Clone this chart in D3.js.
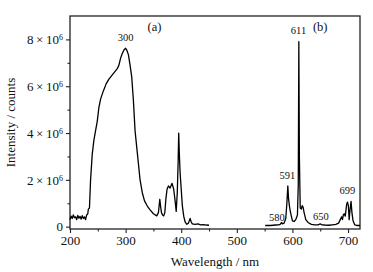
<!DOCTYPE html>
<html>
<head>
<script src="https://d3js.org/d3.v7.min.js"></script>
<style>
  body { margin: 0; background: #fff; }
  text { font-family: "Liberation Serif", "DejaVu Serif", serif; fill: #111; }
</style>
</head>
<body>
<svg id="plot"></svg>
<script>
// excitation spectrum (a): wavelength nm, intensity counts
var excWave = [200,202,204,206,208,210,212,214,216,218,220,222,224,226,228,230,232,233,235,
  237,240,243,246,249,252,255,260,265,270,275,280,285,288,291,294,297,300,302,
  305,308,311,314,317,320,323,326,330,334,339,344,350,356,359,361.5,363,364.5,
  366.5,368.5,370.5,372.5,374.5,377,380,383.5,386.5,389,391,393,394.5,395.5,
  396.5,398,400,402,404.5,407,410,413,416,418,420,425,430,435,440,445,450];
var excInt = [0.3e6,0.45e6,0.35e6,0.5e6,0.38e6,0.42e6,0.3e6,0.48e6,0.36e6,0.44e6,0.32e6,
  0.47e6,0.35e6,0.42e6,0.3e6,0.5e6,0.55e6,0.75e6,0.8e6,
  2.0e6,3.1e6,3.7e6,4.1e6,4.5e6,5.1e6,5.45e6,5.8e6,6.1e6,6.3e6,6.45e6,6.6e6,6.75e6,
  6.9e6,7.2e6,7.4e6,7.55e6,7.62e6,7.55e6,7.35e6,6.9e6,6.4e6,5.4e6,4.1e6,3.4e6,2.7e6,
  2.0e6,1.45e6,1.1e6,0.88e6,0.72e6,0.55e6,0.46e6,0.6e6,1.17e6,0.85e6,0.6e6,0.5e6,
  0.46e6,0.6e6,1.2e6,1.6e6,1.74e6,1.65e6,1.85e6,1.6e6,1.1e6,0.65e6,1.5e6,2.8e6,4.0e6,
  3.2e6,2.3e6,1.6e6,0.9e6,0.45e6,0.2e6,0.1e6,0.15e6,0.35e6,0.2e6,0.12e6,0.1e6,0.12e6,
  0.08e6,0.09e6,0.07e6,0.06e6];

// emission spectrum (b)
var emWave = [551,555,560,565,570,575,578,580.5,582,585,588,590,591.7,593,594.5,596,
  598,600,603,606,609,610.5,611.5,612.5,614,616,617.5,619,621,624,628,634,640,646,
  650,653,658,665,672,678,683,686,688.5,690,691.5,693,695,697.5,699,700.6,702,
  703.5,705.4,707,709,712,716,721.5];
var emInt = [0.05e6,0.05e6,0.05e6,0.06e6,0.07e6,0.08e6,0.1e6,0.18e6,0.12e6,0.15e6,0.35e6,
  1.0e6,1.74e6,1.2e6,0.9e6,0.67e6,0.45e6,0.25e6,0.22e6,0.3e6,0.5e6,1.8e6,7.9e6,3.0e6,
  0.8e6,0.75e6,0.9e6,0.85e6,0.6e6,0.3e6,0.18e6,0.1e6,0.08e6,0.08e6,0.12e6,0.08e6,0.07e6,
  0.06e6,0.08e6,0.1e6,0.15e6,0.3e6,0.42e6,0.3e6,0.5e6,0.55e6,0.45e6,0.95e6,1.05e6,0.9e6,
  0.3e6,0.7e6,1.08e6,0.6e6,0.25e6,0.08e6,0.05e6,0.05e6];

var xTicks = [200,300,400,500,600,700];
var xMinor = [250,350,450,550,650];
var yTicks = [0,2e6,4e6,6e6,8e6];
var yMinor = [1e6,3e6,5e6,7e6];

// peak labels: [wavelength, intensity at label, text]
var peakLabels = [[300,7.95e6,"300"],[611,8.25e6,"611"],[591,2.05e6,"591"],
  [572,0.25e6,"580"],[651,0.3e6,"650"],[699,1.4e6,"699"]];
var panelLabels = [[352,8.35e6,"(a)"],[650,8.35e6,"(b)"]];

var W = 373, H = 272;
var M = {left: 70, right: 13, top: 16, bottom: 43};

var svg = d3.select("#plot").attr("width", W).attr("height", H);

var x = d3.scaleLinear().domain([200, 721.5]).range([M.left, W - M.right]);
var y = d3.scaleLinear().domain([-0.1e6, 9e6]).range([H - M.bottom, M.top]);

// frame
svg.append("rect")
  .attr("x", M.left).attr("y", M.top)
  .attr("width", W - M.left - M.right).attr("height", H - M.top - M.bottom)
  .attr("fill", "none").attr("stroke", "#222").attr("stroke-width", 1.3);

// x axis
var xg = svg.append("g").attr("transform", "translate(0," + (H - M.bottom) + ")");
xg.call(d3.axisBottom(x).tickValues(xTicks).tickSize(4).tickPadding(3));
xg.append("g").call(d3.axisBottom(x).tickValues(xMinor).tickSize(2.5).tickFormat(""));
xg.selectAll(".domain").remove();
xg.selectAll("line").attr("stroke", "#222").attr("stroke-width", 1.1);
xg.selectAll("text").attr("font-size", 13).attr("font-family", "Liberation Serif").attr("fill", "#111");

// y axis
var yg = svg.append("g").attr("transform", "translate(" + M.left + ",0)");
var ygMajor = yg.append("g").call(d3.axisLeft(y).tickValues(yTicks).tickSize(4).tickPadding(3)
  .tickFormat(function(d){ return d === 0 ? "0" : ""; }));
yg.append("g").call(d3.axisLeft(y).tickValues(yMinor).tickSize(2.5).tickFormat(""));
yg.selectAll(".domain").remove();
yg.selectAll("line").attr("stroke", "#222").attr("stroke-width", 1.1);
yg.selectAll("text").attr("font-size", 13).attr("font-family", "Liberation Serif").attr("fill", "#111");
ygMajor.selectAll(".tick text").filter(function(d){ return d !== 0; })
  .each(function(d){
    var t = d3.select(this);
    t.append("tspan").text((d / 1e6) + "\u2009\u00d7\u200910");
    t.append("tspan").attr("dy", "-0.45em").attr("font-size", 8).text("6");
  });

// curves
var line = d3.line().x(function(d){ return x(d[0]); }).y(function(d){ return y(d[1]); });
[d3.zip(excWave, excInt), d3.zip(emWave, emInt)].forEach(function(s){
  svg.append("path").datum(s).attr("d", line)
    .attr("fill", "none").attr("stroke", "#000").attr("stroke-width", 1.3)
    .attr("stroke-linejoin", "round");
});

// peak annotations
svg.selectAll(".peak").data(peakLabels).enter().append("text")
  .attr("x", function(d){ return x(d[0]); })
  .attr("y", function(d){ return y(d[1]); })
  .attr("text-anchor", "middle").attr("font-size", 10.5)
  .text(function(d){ return d[2]; });

svg.selectAll(".panel").data(panelLabels).enter().append("text")
  .attr("x", function(d){ return x(d[0]); })
  .attr("y", function(d){ return y(d[1]); })
  .attr("text-anchor", "middle").attr("font-size", 12.5)
  .text(function(d){ return d[2]; });

// axis titles
svg.append("text").attr("x", (M.left + W - M.right) / 2 + 0).attr("y", 266)
  .attr("text-anchor", "middle").attr("font-size", 13).text("Wavelength / nm");
svg.append("text").attr("transform", "translate(15," + ((M.top + H - M.bottom) / 2) + ") rotate(-90)")
  .attr("text-anchor", "middle").attr("font-size", 13).text("Intensity / counts");
</script>
</body>
</html>
